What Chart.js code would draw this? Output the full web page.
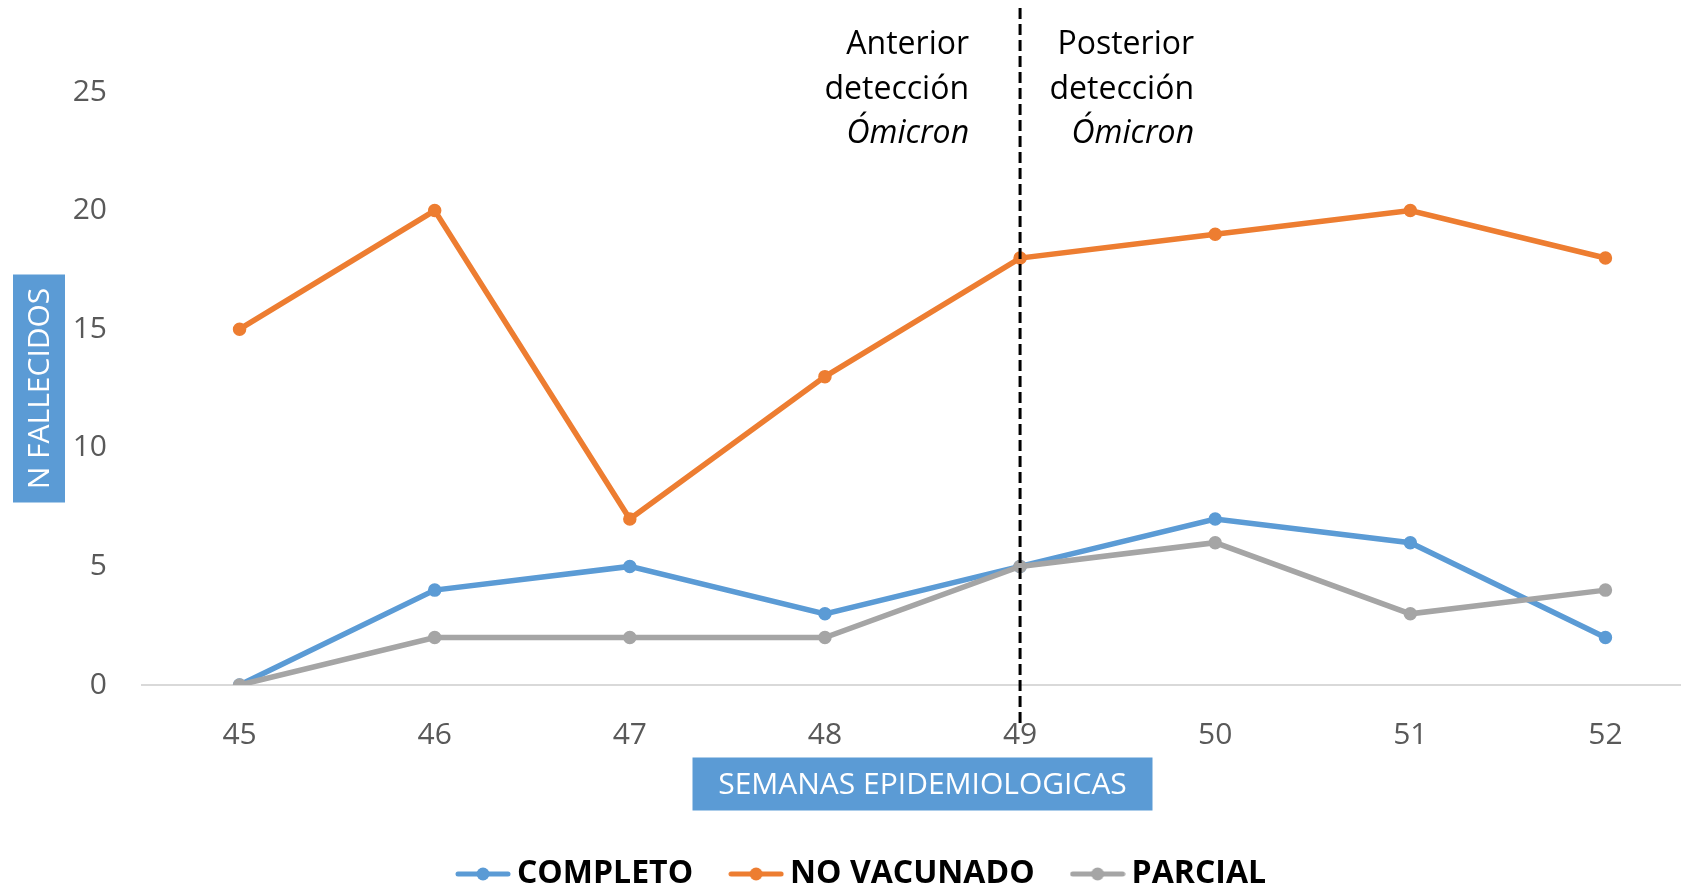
<!DOCTYPE html>
<html lang="es">
<head>
    <meta charset="UTF-8">
    <title>Fallecidos por semana epidemiológica</title>
    <script src="https://cdn.jsdelivr.net/npm/chart.js"></script>
    <style>
        html, body {
            margin: 0;
            padding: 0;
            background: #fff;
            overflow: hidden;
        }
    </style>
</head>
<body>
    <canvas id="lineChart" width="1724" height="900"></canvas>

    <script>
        // Datos
        const semanas = ['45', '46', '47', '48', '49', '50', '51', '52'];
        const completo = [0, 4, 5, 3, 5, 7, 6, 2];
        const noVacunado = [15, 20, 7, 13, 18, 19, 20, 18];
        const parcial = [0, 2, 2, 2, 5, 6, 3, 4];
        const yTicks = [0, 5, 10, 15, 20, 25];
        const semanaCorte = '49';
        const notaAntes = ['Anterior', 'detección', 'Ómicron'];
        const notaDespues = ['Posterior', 'detección', 'Ómicron'];

        const AZUL = '#5B9BD5';
        const NARANJA = '#ED7D31';
        const GRIS = '#A5A5A5';
        const FONT = '"Open Sans", "Noto Sans", sans-serif';

        // little line+dot marker for the legend
        function legendMarker(color) {
            const c = document.createElement('canvas');
            c.width = 56;
            c.height = 16;
            const g = c.getContext('2d');
            g.strokeStyle = color;
            g.lineWidth = 5;
            g.lineCap = 'round';
            g.beginPath();
            g.moveTo(3, 8);
            g.lineTo(53, 8);
            g.stroke();
            g.fillStyle = color;
            g.beginPath();
            g.arc(28, 8, 6.5, 0, Math.PI * 2);
            g.fill();
            return c;
        }

        function serie(label, data, color, order) {
            return {
                label: label,
                data: data,
                borderColor: color,
                backgroundColor: color,
                borderWidth: 5.5,
                pointRadius: 6,
                pointBorderWidth: 1.5,
                pointHoverRadius: 7,
                tension: 0,
                order: order,
                marker: legendMarker(color)
            };
        }

        // Dashed divider, notes and the boxed axis titles
        const decoraciones = {
            id: 'decoraciones',
            afterDraw(chart) {
                const { ctx, chartArea, scales: { x } } = chart;
                const xc = x.getPixelForValue(semanas.indexOf(semanaCorte));
                ctx.save();

                ctx.strokeStyle = '#000';
                ctx.lineWidth = 3;
                ctx.setLineDash([11, 5]);
                ctx.beginPath();
                ctx.moveTo(xc, 8);
                ctx.lineTo(xc, chartArea.bottom + 41);
                ctx.stroke();
                ctx.setLineDash([]);

                ctx.fillStyle = '#000';
                ctx.textAlign = 'right';
                ctx.textBaseline = 'middle';
                notaAntes.forEach((t, i) => {
                    ctx.font = (i === 2 ? 'italic ' : '') + '32px ' + FONT;
                    ctx.fillText(t, xc - 51, chartArea.top - 47 + i * 44.5);
                });
                notaDespues.forEach((t, i) => {
                    ctx.font = (i === 2 ? 'italic ' : '') + '32px ' + FONT;
                    ctx.fillText(t, xc + 174, chartArea.top - 47 + i * 44.5);
                });

                // x title
                const cx = (chartArea.left + chartArea.right) / 2;
                const ty = chartArea.bottom + 99;
                ctx.fillStyle = AZUL;
                ctx.fillRect(cx - 230, ty - 26.5, 460, 53);
                ctx.fillStyle = '#fff';
                ctx.textAlign = 'center';
                ctx.font = '30px ' + FONT;
                ctx.fillText('SEMANAS EPIDEMIOLOGICAS', cx, ty + 1);

                // y title
                const yx = chartArea.left - 103;
                const yy = (chartArea.top + chartArea.bottom) / 2;
                ctx.fillStyle = AZUL;
                ctx.fillRect(yx - 26, yy - 114, 52, 228);
                ctx.translate(yx, yy);
                ctx.rotate(-Math.PI / 2);
                ctx.fillStyle = '#fff';
                ctx.fillText('N FALLECIDOS', 0, 1);

                ctx.restore();
            }
        };

        const config = {
            type: 'line',
            data: {
                labels: semanas,
                datasets: [
                    serie('COMPLETO', completo, AZUL, 3),
                    serie('NO VACUNADO', noVacunado, NARANJA, 2),
                    serie('PARCIAL', parcial, GRIS, 1)
                ]
            },
            options: {
                responsive: false,
                animation: false,
                layout: {
                    padding: { top: 92, left: 28, right: 21, bottom: 0 }
                },
                scales: {
                    x: {
                        offset: true,
                        grid: { display: false, drawTicks: false },
                        border: { display: true, color: '#D9D9D9', width: 2 },
                        ticks: {
                            color: '#595959',
                            padding: 32,
                            font: { family: FONT, size: 30 }
                        },
                        afterFit(scale) {
                            scale.height = 128;
                        }
                    },
                    y: {
                        min: 0,
                        max: 25,
                        afterBuildTicks(scale) {
                            scale.ticks = yTicks.map(v => ({ value: v }));
                        },
                        grid: { display: false, drawTicks: false },
                        border: { display: false },
                        ticks: {
                            color: '#595959',
                            padding: 35,
                            font: { family: FONT, size: 30 }
                        },
                        afterFit(scale) {
                            scale.width = 114;
                        }
                    }
                },
                plugins: {
                    legend: {
                        position: 'bottom',
                        labels: {
                            usePointStyle: true,
                            pointStyleWidth: 36,
                            padding: 45,
                            color: '#000',
                            font: { family: FONT, size: 32, weight: 'bold' },
                            generateLabels(chart) {
                                return chart.data.datasets.map((ds, i) => ({
                                    text: ds.label,
                                    pointStyle: ds.marker,
                                    fillStyle: ds.borderColor,
                                    strokeStyle: ds.borderColor,
                                    fontColor: '#000',
                                    lineWidth: 0,
                                    hidden: !chart.isDatasetVisible(i),
                                    datasetIndex: i
                                }));
                            }
                        }
                    },
                    tooltip: { mode: 'index', intersect: false }
                }
            },
            plugins: [decoraciones]
        };

        new Chart(document.getElementById('lineChart').getContext('2d'), config);
    </script>
</body>
</html>
